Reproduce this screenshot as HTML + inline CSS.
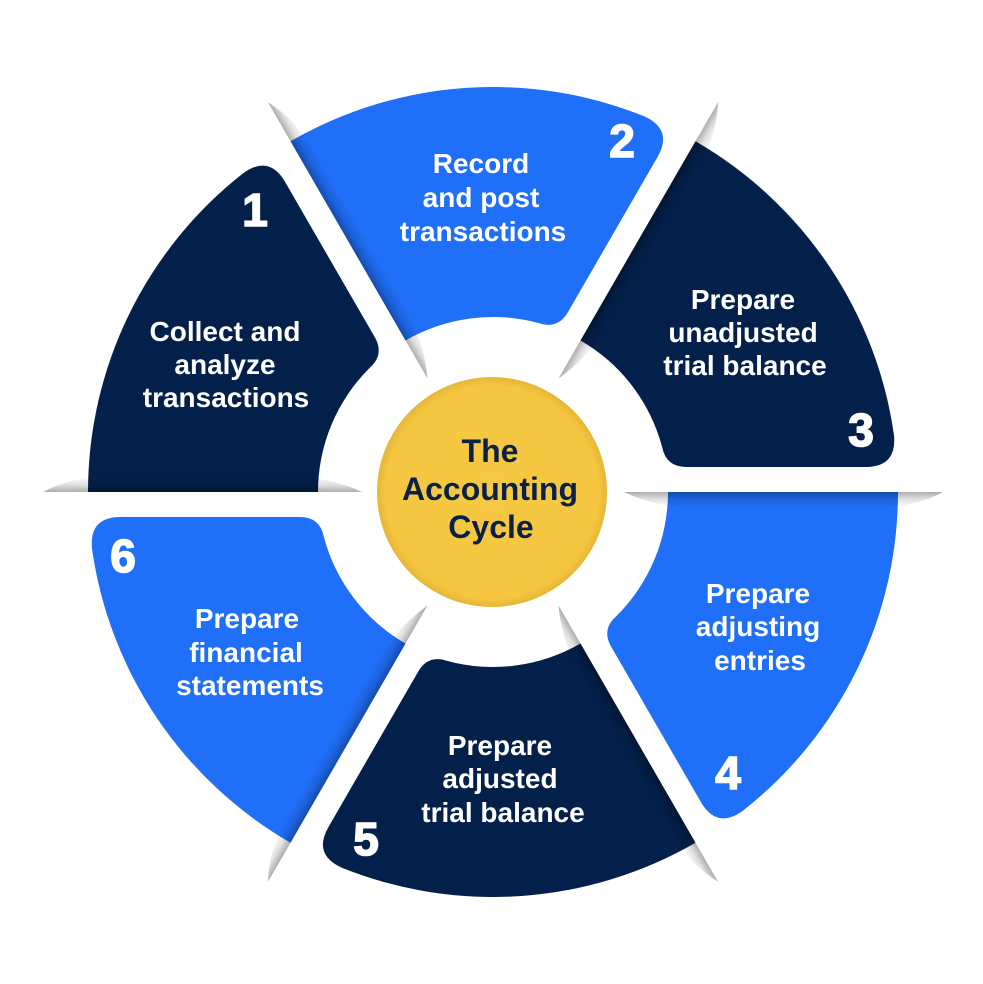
<!DOCTYPE html>
<html>
<head>
<meta charset="utf-8">
<style>
  html, body { margin: 0; padding: 0; background: #ffffff; }
  svg { display: block; }
  .lbl { font-family: "Liberation Sans", Arial, sans-serif; font-weight: bold; font-size: 28px; fill: #ffffff; }
  .num { font-family: "Liberation Sans", Arial, sans-serif; font-weight: bold; font-size: 46px; fill: #ffffff; stroke: #ffffff; stroke-width: 1.6px; }
  .ctr { font-family: "Liberation Sans", Arial, sans-serif; font-weight: bold; font-size: 32px; fill: #0A2145; }
</style>
</head>
<body>
<svg width="983" height="984" viewBox="0 0 983 984" xmlns="http://www.w3.org/2000/svg">
  <defs>
    <radialGradient id="yg" cx="492" cy="492" r="115" gradientUnits="userSpaceOnUse">
      <stop offset="0" stop-color="#F6C843"/>
      <stop offset="0.92" stop-color="#F5C741"/>
      <stop offset="1" stop-color="#E6B636"/>
    </radialGradient>
  </defs>
  <rect x="0" y="0" width="983" height="984" fill="#ffffff"/>

  <g transform="translate(493 492)">
    <!-- segments: base shape = segment 4 (0deg..60deg) -->
    <g transform="rotate(0)">
      <path d="M175,0 L405,0 A405,405 0 0 1 249.84,318.74 Q223.77,337.57 207.77,309.86 L118.25,154.82 Q108.25,137.5 123.22,124.26 A175,175 0 0 0 175,0 Z" fill="#1F6FF8"/>
    </g>
    <g transform="rotate(60)">
      <path d="M175,0 L405,0 A405,405 0 0 1 249.84,318.74 Q223.77,337.57 207.77,309.86 L118.25,154.82 Q108.25,137.5 123.22,124.26 A175,175 0 0 0 175,0 Z" fill="#03204A"/>
    </g>
    <g transform="rotate(120)">
      <path d="M175,0 L405,0 A405,405 0 0 1 249.84,318.74 Q223.77,337.57 207.77,309.86 L118.25,154.82 Q108.25,137.5 123.22,124.26 A175,175 0 0 0 175,0 Z" fill="#1F6FF8"/>
    </g>
    <g transform="rotate(180)">
      <path d="M175,0 L405,0 A405,405 0 0 1 249.84,318.74 Q223.77,337.57 207.77,309.86 L118.25,154.82 Q108.25,137.5 123.22,124.26 A175,175 0 0 0 175,0 Z" fill="#03204A"/>
    </g>
    <g transform="rotate(240)">
      <path d="M175,0 L405,0 A405,405 0 0 1 249.84,318.74 Q223.77,337.57 207.77,309.86 L118.25,154.82 Q108.25,137.5 123.22,124.26 A175,175 0 0 0 175,0 Z" fill="#1F6FF8"/>
    </g>
    <g transform="rotate(300)">
      <path d="M175,0 L405,0 A405,405 0 0 1 249.84,318.74 Q223.77,337.57 207.77,309.86 L118.25,154.82 Q108.25,137.5 123.22,124.26 A175,175 0 0 0 175,0 Z" fill="#03204A"/>
    </g>

    <!-- fold shadows along the sharp edges -->
    <g transform="rotate(0)">
      <linearGradient id="sh0" gradientUnits="userSpaceOnUse" x1="0" y1="0" x2="0" y2="16">
        <stop offset="0" stop-color="#000" stop-opacity="0.32"/>
        <stop offset="0.45" stop-color="#000" stop-opacity="0.12"/>
        <stop offset="1" stop-color="#000" stop-opacity="0"/>
      </linearGradient>
      <path d="M131,0 Q160,14 200,16 L385,16 Q425,14 450,0 Z" fill="url(#sh0)"/>
    </g>
    <g transform="rotate(60)">
      <path d="M131,0 Q160,14 200,16 L385,16 Q425,14 450,0 Z" fill="url(#sh0)"/>
    </g>
    <g transform="rotate(120)">
      <path d="M131,0 Q160,14 200,16 L385,16 Q425,14 450,0 Z" fill="url(#sh0)"/>
    </g>
    <g transform="rotate(180)">
      <path d="M131,0 Q160,14 200,16 L385,16 Q425,14 450,0 Z" fill="url(#sh0)"/>
    </g>
    <g transform="rotate(240)">
      <path d="M131,0 Q160,14 200,16 L385,16 Q425,14 450,0 Z" fill="url(#sh0)"/>
    </g>
    <g transform="rotate(300)">
      <path d="M131,0 Q160,14 200,16 L385,16 Q425,14 450,0 Z" fill="url(#sh0)"/>
    </g>
  </g>

  <!-- center circle -->
  <circle cx="492" cy="492" r="115" fill="url(#yg)"/>
  <text class="ctr" text-anchor="middle" x="490" y="462">The</text>
  <text class="ctr" text-anchor="middle" x="490" y="500">Accounting</text>
  <text class="ctr" text-anchor="middle" x="491" y="538">Cycle</text>

  <!-- segment 1 -->
  <text class="num" text-anchor="middle" x="255" y="226">1</text>
  <text class="lbl" text-anchor="middle" x="225" y="341">Collect and</text>
  <text class="lbl" text-anchor="middle" x="225" y="374">analyze</text>
  <text class="lbl" text-anchor="middle" x="226" y="407">transactions</text>

  <!-- segment 2 -->
  <text class="num" text-anchor="middle" x="622" y="157">2</text>
  <text class="lbl" text-anchor="middle" x="481" y="173">Record</text>
  <text class="lbl" text-anchor="middle" x="481" y="207">and post</text>
  <text class="lbl" text-anchor="middle" x="483" y="241">transactions</text>

  <!-- segment 3 -->
  <text class="lbl" text-anchor="middle" x="743" y="309">Prepare</text>
  <text class="lbl" text-anchor="middle" x="743" y="342">unadjusted</text>
  <text class="lbl" text-anchor="middle" x="745" y="375">trial balance</text>
  <text class="num" text-anchor="middle" x="861" y="446">3</text>

  <!-- segment 4 -->
  <text class="lbl" text-anchor="middle" x="758" y="603">Prepare</text>
  <text class="lbl" text-anchor="middle" x="758" y="636">adjusting</text>
  <text class="lbl" text-anchor="middle" x="760" y="670">entries</text>
  <text class="num" text-anchor="middle" x="728" y="789">4</text>

  <!-- segment 5 -->
  <text class="lbl" text-anchor="middle" x="500" y="755">Prepare</text>
  <text class="lbl" text-anchor="middle" x="500" y="788">adjusted</text>
  <text class="lbl" text-anchor="middle" x="503" y="822">trial balance</text>
  <text class="num" text-anchor="middle" x="366" y="855">5</text>

  <!-- segment 6 -->
  <text class="num" text-anchor="middle" x="123" y="572">6</text>
  <text class="lbl" text-anchor="middle" x="247" y="628">Prepare</text>
  <text class="lbl" text-anchor="middle" x="246" y="662">financial</text>
  <text class="lbl" text-anchor="middle" x="250" y="695">statements</text>
</svg>
</body>
</html>
